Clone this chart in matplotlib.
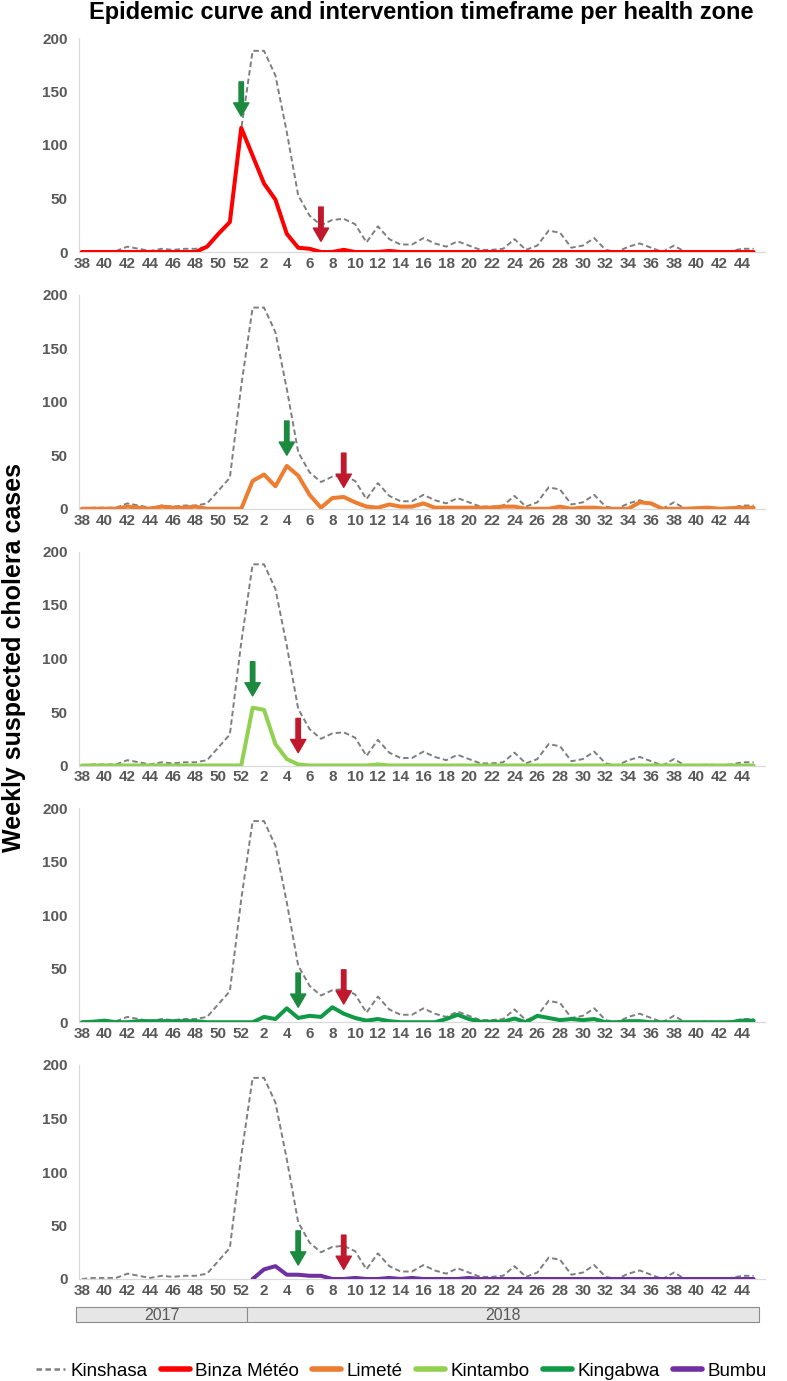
import numpy as np
import matplotlib
matplotlib.use("Agg")
import matplotlib.pyplot as plt
from matplotlib.lines import Line2D

# weeks on the category axis: 2017 W38-W52, then 2018 W1-W45
weeks_2017 = list(range(38, 53))
weeks_2018 = list(range(1, 46))
weeks = weeks_2017 + weeks_2018
years = ["2017", "2018"]
year_lengths = [len(weeks_2017), len(weeks_2018)]

kinshasa = [0, 1, 1, 1, 5, 3, 1, 3, 2, 3, 3, 5, 17, 29, 115,
            188, 188, 165, 112, 53, 34, 25, 30, 31, 26, 9, 24, 12, 7, 7,
            13, 8, 5, 10, 6, 2, 2, 3, 12, 2, 6, 20, 18, 4, 6,
            13, 2, 0, 5, 8, 4, 0, 6, 0, 0, 1, 0, 1, 3, 3]

binza = [0, 0, 0, 0, 0, 0, 0, 0, 0, 0, 0, 5, 17, 28, 116,
         90, 64, 49, 17, 4, 3, 0, 0, 2, 0, 0, 0, 1, 0, 0,
         0, 0, 0, 0, 0, 0, 0, 0, 0, 0, 0, 0, 0, 0, 0,
         0, 0, 0, 0, 0, 0, 0, 0, 0, 0, 0, 0, 0, 0, 0]

limete = [0, 0, 0, 0, 2, 1, 0, 2, 1, 1, 2, 0, 0, 0, 0,
          26, 32, 21, 40, 31, 13, 1, 10, 11, 6, 2, 1, 4, 2, 2,
          5, 1, 1, 1, 1, 1, 1, 2, 2, 0, 0, 0, 2, 0, 1,
          1, 0, 0, 0, 6, 5, 0, 0, 0, 0.5, 1, 0, 0.5, 1, 1]

kintambo = [0, 0, 0, 0, 0, 0, 0, 0, 0, 0, 0, 0, 0, 0, 0,
            54, 52, 20, 6, 1, 0, 0, 0, 0, 0, 0, 1, 0, 0, 0,
            0, 0, 0, 0, 0, 0, 0, 0, 0, 0, 0, 0, 0, 0, 0,
            0, 0, 0, 0, 0, 0, 0, 0, 0, 0, 0, 0, 0, 0, 0]

kingabwa = [0, 0.5, 1.5, 0, 0, 1, 1, 1, 1, 1, 1, 0, 0, 0, 0,
            0, 5, 3, 13, 4, 6, 5, 14, 8, 4, 1.5, 3, 1, 0, 0,
            0, 0, 3, 7, 3, 0.5, 0.5, 0.5, 3.5, 0, 6, 4, 2, 3, 2,
            3, 0, 0, 1, 1, 0, 0, 0, 0, 0, 0, 0, 0, 1.5, 1.5]

bumbu = [np.nan] * 15 + [
    0, 9, 12, 4, 4, 3, 3, 0, 0, 1, 0, 0, 1, 0, 1,
    0, 0, 0, 0, 1, 0, 0, 0, 0, 0, 0, 0, 0, 0, 0,
    0, 0, 0, 0, 0, 0, 0, 0, 0, 0, 0, 0, 0, 0, 0]

zones = ["Binza Météo", "Limeté", "Kintambo", "Kingabwa", "Bumbu"]
zone_values = [binza, limete, kintambo, kingabwa, bumbu]
zone_colors = ["#ff0000", "#ed7d31", "#92d050", "#109a47", "#7030a0"]

# intervention start (green) / end (red): (year, week), arrow tip value
start_week = [(2017, 52), (2018, 4), (2018, 1), (2018, 5), (2018, 5)]
start_tip = [127, 50, 65, 14, 13]
end_week = [(2018, 7), (2018, 9), (2018, 5), (2018, 9), (2018, 9)]
end_tip = [10, 20, 12, 17, 9]


def week_index(yw):
    y, w = yw
    if y == 2017:
        return weeks_2017.index(w)
    return len(weeks_2017) + weeks_2018.index(w)


W, H = 787, 1381
fig = plt.figure(figsize=(W / 100, H / 100), dpi=100)

arial = ["Liberation Sans", "DejaVu Sans"]
grey_txt = "#595959"

x = np.arange(len(weeks))
tick_pos = x[::2]
tick_lab = [str(weeks[i]) for i in tick_pos]

for k, (name, vals, col) in enumerate(zip(zones, zone_values, zone_colors)):
    zero_px = 252 + 256.75 * k
    ax = fig.add_axes([79 / W, (H - zero_px) / H, 686 / W, 214 / H])
    ax.plot(x, kinshasa, color="#7f7f7f", lw=1.4, ls=(0, (2.8, 1.6)), zorder=2)
    ax.plot(x, vals, color=col, lw=2.9, zorder=3, solid_capstyle="round")
    for wk, tip, c in [(start_week[k], start_tip[k], "#1b8a3f"),
                       (end_week[k], end_tip[k], "#c0182c")]:
        xi = week_index(wk)
        ax.annotate("", xy=(xi, tip), xytext=(xi, tip + 32),
                    arrowprops=dict(facecolor=c, edgecolor=c, width=3.2,
                                    headwidth=11, headlength=9.5, shrink=0),
                    zorder=5)
    ax.set_xlim(-0.25, 60)
    ax.set_ylim(0, 200)
    ax.set_yticks([0, 50, 100, 150, 200])
    ax.set_xticks(tick_pos)
    ax.set_xticklabels(tick_lab)
    for s in ["top", "right"]:
        ax.spines[s].set_visible(False)
    for s in ["left", "bottom"]:
        ax.spines[s].set_color("#d9d9d9")
        ax.spines[s].set_linewidth(0.9)
    ax.tick_params(length=0, labelsize=11, labelcolor=grey_txt)
    ax.tick_params(axis="x", pad=3.5)
    ax.tick_params(axis="y", pad=8)
    for lab in ax.get_xticklabels() + ax.get_yticklabels():
        lab.set_family(arial)
        lab.set_fontweight("bold")

# year band under the last panel
yax = fig.add_axes([79 / W, (H - 1322) / H, 686 / W, 15 / H])
yax.set_xlim(-0.25, 60)
yax.set_ylim(0, 1)
yax.axis("off")
starts = np.cumsum([0] + year_lengths[:-1]) - 0.5
yax.barh(0.5, year_lengths, left=starts, height=1, color="#e6e6e6",
         edgecolor="#8c8c8c", lw=0.8, clip_on=False)
for yr, s0, n in zip(years, starts, year_lengths):
    yax.text(s0 + n / 2, 0.45, yr, ha="center", va="center", fontsize=11.5,
             color=grey_txt, family=arial)

fig.text(421 / W, 1 - 13 / H,
         "Epidemic curve and intervention timeframe per health zone",
         ha="center", va="center", fontsize=17, fontweight="bold", family=arial)
fig.text(14 / W, 1 - 658 / H, "Weekly suspected cholera cases", rotation=90,
         ha="center", va="center", fontsize=18, fontweight="bold", family=arial)

handles = [Line2D([], [], color="#7f7f7f", lw=1.8, ls=(0, (2.2, 1.4)))]
handles += [Line2D([], [], color=c, lw=4, solid_capstyle="round") for c in zone_colors]
labels = ["Kinshasa"] + zones
fig.legend(handles, labels, loc="center", bbox_to_anchor=(0.51, (H - 1371) / H),
           ncol=6, frameon=False, handlelength=1.55, handletextpad=0.3,
           columnspacing=0.7, prop={"family": arial, "size": 13.5})

fig.savefig("out.png", dpi=100)
